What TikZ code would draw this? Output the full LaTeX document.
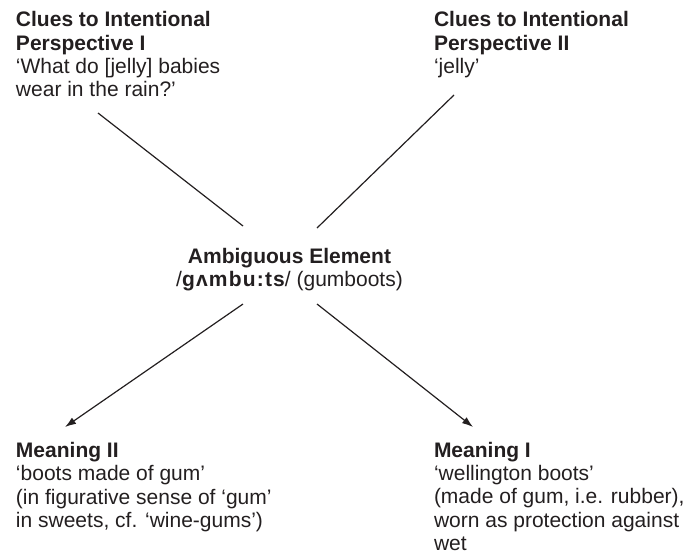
\documentclass[tikz,border=0pt]{standalone}
\usepackage{fontspec}
\setmainfont{Liberation Sans}
\usetikzlibrary{arrows.meta}
\definecolor{ink}{HTML}{231F20}
\begin{document}
\begin{tikzpicture}[x=1pt,y=-1pt,
  every node/.style={inner sep=0pt, outer sep=0pt, text=ink,
    font=\fontsize{21}{23.4}\selectfont},
  % multi-line blocks: the base anchor sits on the last line
  block/.style={anchor=base west, align=left},
  centreblock/.style={anchor=base, align=center},
  link/.style={draw=ink, line width=1.2pt},
  arrowlink/.style={link, -{Latex[length=11pt,width=7.5pt]}}]
  \useasboundingbox (0,0) rectangle (686,555);

  % clue blocks
  \node[block] (clue1) at (16,96.9)
    {\textbf{Clues to Intentional}\\\textbf{Perspective I}\\‘What do [jelly] babies\\wear in the rain?’};
  \node[block] (clue2) at (434,73.5)
    {\textbf{Clues to Intentional}\\\textbf{Perspective II}\\‘jelly’};

  % ambiguous element, with the phonetic form slightly letter-spaced
  \node[centreblock] (amb) at (289.5,286.5)
    {\textbf{Ambiguous Element}\\/\textbf{g\kern1.2pt ʌ\kern1.2pt m\kern1.2pt b\kern1.2pt u\kern1.2pt :\kern1.2pt t\kern1.2pt s}/ (gumboots)};

  % meanings
  \node[block] (m2) at (16,527.5)
    {\textbf{Meaning II}\\‘boots made of gum’\\(in figurative sense of ‘gum’\\in sweets, cf. ‘wine-gums’)};
  \node[block] (m1) at (434,550.6)
    {\textbf{Meaning I}\\‘wellington boots’\\(made of gum, i.e. rubber),\\worn as protection against\\wet};

  % connector ends
  \coordinate (c1out) at (98,113);
  \coordinate (c2out) at (454,95);
  \coordinate (ambin1) at (243,226);
  \coordinate (ambin2) at (317,228);
  \coordinate (ambout2) at (243,304);
  \coordinate (ambout1) at (317,304);
  \coordinate (m2in) at (65,427);
  \coordinate (m1in) at (473,427);

  \draw[link] (c1out) -- (ambin1);
  \draw[link] (c2out) -- (ambin2);
  \draw[arrowlink] (ambout2) -- (m2in);
  \draw[arrowlink] (ambout1) -- (m1in);
\end{tikzpicture}
\end{document}
